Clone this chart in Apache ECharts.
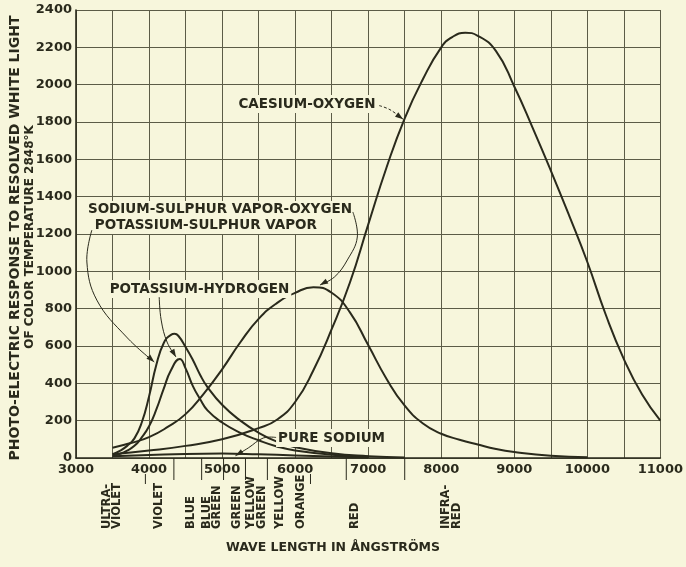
<!DOCTYPE html>
<html><head><meta charset="utf-8">
<script src="https://cdn.jsdelivr.net/npm/echarts@6/dist/echarts.min.js"></script>
<style>html,body{margin:0;padding:0;background:#f7f6dc;}#c{width:686px;height:567px;}</style>
</head><body><div id="c"></div>
<script>
// ---------- data ----------
const caesiumX = [3500,4000,4500,5000,5500,5750,6000,6250,6500,6750,7000,7250,7500,7750,8000,8150,8330,8500,8750,9000,9250,9500,9750,10000,10250,10500,10750,11000];
const caesiumY = [20,40,65,100,160,205,300,470,690,940,1250,1555,1820,2030,2200,2255,2278,2262,2180,1990,1770,1540,1300,1050,770,530,340,200];
const sodSulOxX = [3500,3750,4000,4250,4500,4750,5000,5250,5500,5750,6000,6250,6500,6750,7000,7250,7500,7750,8000,8250,8500,8750,9000,9500,10000];
const sodSulOxY = [55,80,112,165,235,345,475,620,745,830,885,915,885,780,605,425,280,185,130,98,72,48,32,12,4];
const potSulX = [3500,3600,3700,3800,3900,4000,4100,4200,4300,4350,4400,4500,4600,4700,4800,5000,5250,5500,5750,6000,6500,7000,7500];
const potSulY = [20,38,65,105,190,330,500,615,660,665,655,595,525,445,380,285,200,135,88,58,25,10,3];
const potHydX = [3500,3600,3700,3800,3900,4000,4100,4200,4300,4420,4500,4600,4700,4800,5000,5250,5500,5750,6000,6500,7000];
const potHydY = [10,22,40,65,110,170,260,370,470,530,480,385,315,255,190,135,95,62,40,18,8];
const pureNaX = [3500,4000,4500,5000,5500,6000,6500,7000];
const pureNaY = [10,16,22,24,20,14,8,3];

const bandNames = ["ULTRA-\nVIOLET","VIOLET","BLUE","BLUE\nGREEN","GREEN","YELLOW\nGREEN","YELLOW","ORANGE","RED","INFRA-\nRED"];
const bandCenters = [3490,4140,4570,4860,5200,5470,5790,6080,6820,8140];
const bandEdges = [4340,4720,5020,5320,5620,6700,7500];
const bandShortMarks = [3950,6210];

const yTitle1 = "PHOTO-ELECTRIC RESPONSE TO RESOLVED WHITE LIGHT";
const yTitle2 = "OF COLOR TEMPERATURE 2848°K";
const xTitle = "WAVE LENGTH IN ÅNGSTRÖMS";

// ---------- styles ----------
const INK = '#2a2a1c', GRID = '#5c5c47', BG = '#f7f6dc';
const FF = '"DejaVu Sans", sans-serif';
const FONT = 'bold 13.5px ' + FF;

const chart = echarts.init(document.getElementById('c'));
function pairs(xs, ys){ return xs.map((x,i)=>[x, ys[i]]); }
function lineSeries(name, xs, ys){
  return {name, type:'line', data:pairs(xs,ys), smooth:0.5, symbol:'none',
    lineStyle:{color:INK, width:2}, z:5, silent:true};
}
chart.setOption({
  backgroundColor: BG,
  animation: false,
  grid: {left:76, right:21, top:10, bottom:109},
  xAxis: {type:'value', min:3000, max:11000, interval:500,
    axisLine:{show:true, onZero:false, lineStyle:{color:INK, width:1.6}},
    axisTick:{show:false},
    splitLine:{show:true, lineStyle:{color:GRID, width:1}},
    axisLabel:{formatter:v => v % 1000 === 0 ? String(v) : '', margin:5, color:INK,
      fontFamily:FF, fontSize:13, fontWeight:'bold'}},
  yAxis: {type:'value', min:0, max:2400, interval:200,
    axisLine:{show:true, lineStyle:{color:INK, width:1.6}},
    axisTick:{show:false},
    splitLine:{show:true, lineStyle:{color:GRID, width:1}},
    axisLabel:{formatter:v => String(v), margin:4, color:INK, fontFamily:FF, fontSize:13, fontWeight:'bold'}},
  series: [
    lineSeries('CAESIUM-OXYGEN', caesiumX, caesiumY),
    lineSeries('SODIUM-SULPHUR VAPOR-OXYGEN', sodSulOxX, sodSulOxY),
    lineSeries('POTASSIUM-SULPHUR VAPOR', potSulX, potSulY),
    lineSeries('POTASSIUM-HYDROGEN', potHydX, potHydY),
    lineSeries('PURE SODIUM', pureNaX, pureNaY)
  ]
});

// ---------- annotations (placed in data coordinates) ----------
const notes = [
  {text:'CAESIUM-OXYGEN', at:[5224,1896], dash:[3,2],
   lead:[[7150,1888],[7298,1866],[7478,1815]]},
  {text:'SODIUM-SULPHUR VAPOR-OXYGEN', at:[3163,1329],
   lead:[[6790,1318],[6851,1184],[6715,1061],[6539,970],[6340,927]]},
  {text:'POTASSIUM-SULPHUR VAPOR', at:[3258,1248],
   lead:[[3217,1221],[3149,1050],[3285,846],[3692,648],[4071,514]]},
  {text:'POTASSIUM-HYDROGEN', at:[3461,905],
   lead:[[4139,862],[4166,739],[4247,621],[4369,541]]},
  {text:'PURE SODIUM', at:[5766,107],
   lead:[[5739,110],[5563,107],[5359,54],[5183,12]]}
];
function px(p){ return chart.convertToPixel({gridIndex:0}, p); }
const g = [];
notes.forEach(n => {
  const a = px(n.at);
  g.push({type:'text', x:a[0]-2, y:a[1], z:20, silent:true,
    style:{text:n.text, font:FONT, fill:INK, textAlign:'left', textVerticalAlign:'middle',
      align:'left', verticalAlign:'middle', backgroundColor:BG, padding:[2,2]}});
  const pts = n.lead.map(px);
  g.push({type:'polyline', z:21, silent:true, shape:{points:pts, smooth:0.4},
    style:{stroke:INK, lineWidth:1, fill:null, lineDash:n.dash || null}});
  const q = pts[pts.length-1], p = pts[pts.length-2];
  let dx = q[0]-p[0], dy = q[1]-p[1]; const L = Math.hypot(dx,dy); dx/=L; dy/=L;
  const s = 8, w = 2.8;
  const bx = q[0]-dx*s, by = q[1]-dy*s;
  g.push({type:'polygon', z:21, silent:true,
    shape:{points:[[q[0],q[1]],[bx-dy*w, by+dx*w],[bx+dy*w, by-dx*w]]},
    style:{fill:INK}});
});
const y0 = px([3000,0])[1];
bandEdges.forEach(e => {
  const x = px([e,0])[0];
  g.push({type:'line', silent:true, shape:{x1:x, y1:y0, x2:x, y2:y0+22}, style:{stroke:INK, lineWidth:1}});
});
bandShortMarks.forEach(e => {
  const x = px([e,0])[0];
  g.push({type:'line', silent:true, shape:{x1:x, y1:y0+16, x2:x, y2:y0+26}, style:{stroke:INK, lineWidth:1}});
});
bandNames.forEach((t,i) => {
  const x = px([bandCenters[i],0])[0];
  g.push({type:'text', x:x, y:529, rotation:Math.PI/2, silent:true,
    style:{text:t, font:'bold 11.5px ' + FF, fill:INK, lineHeight:10.5,
      textAlign:'left', textVerticalAlign:'middle', align:'left', verticalAlign:'middle'}});
});
g.push({type:'text', x:15, y:238, rotation:Math.PI/2, silent:true,
  style:{text:yTitle1, font:'bold 14px ' + FF, fill:INK, textAlign:'center', textVerticalAlign:'middle', align:'center', verticalAlign:'middle'}});
g.push({type:'text', x:30, y:237, rotation:Math.PI/2, silent:true,
  style:{text:yTitle2, font:'bold 12px ' + FF, fill:INK, textAlign:'center', textVerticalAlign:'middle', align:'center', verticalAlign:'middle'}});
g.push({type:'text', x:333, y:548, silent:true,
  style:{text:xTitle, font:'bold 12.5px ' + FF, fill:INK, textAlign:'center', textVerticalAlign:'middle', align:'center', verticalAlign:'middle'}});
chart.setOption({graphic: g});
</script>
</body></html>
